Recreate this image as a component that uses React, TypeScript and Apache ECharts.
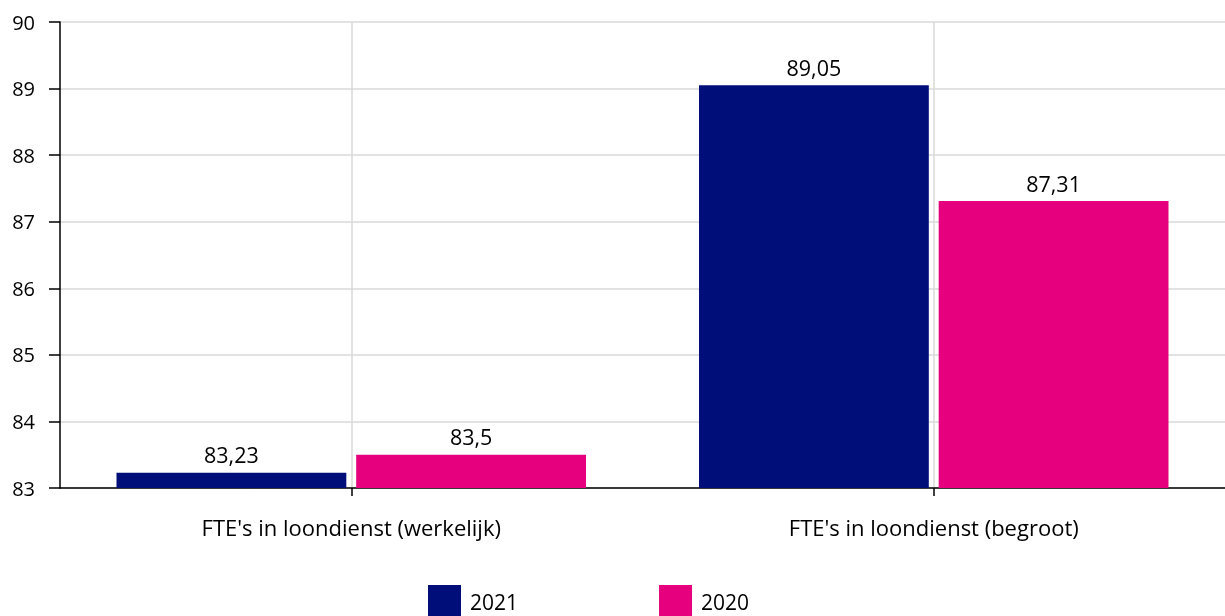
import React, { useEffect, useRef } from "react";
import * as echarts from "echarts";

const categories = ["FTE's in loondienst (werkelijk)", "FTE's in loondienst (begroot)"];
const values2021 = [83.23, 89.05];
const values2020 = [83.5, 87.31];
const seriesNames = ["2021", "2020"];

const FONT = "'Open Sans', 'Noto Sans', sans-serif";

export default function App() {
  const ref = useRef<HTMLDivElement>(null);
  useEffect(() => {
    const chart = echarts.init(ref.current!, null, { renderer: "svg" });
    const fmt = (p: any) => String(p.value).replace(".", ",");
    chart.setOption({
      animation: false,
      textStyle: { fontFamily: FONT },
      grid: { left: 60, right: 0, top: 22, bottom: 128 },
      legend: {
        left: 423,
        top: 580,
        itemWidth: 33,
        itemHeight: 33,
        itemGap: 141,
        icon: "rect",
        textStyle: { fontSize: 21, color: "#000", fontFamily: FONT, padding: [0, 0, 0, 4] },
        data: seriesNames,
      },
      xAxis: {
        type: "category",
        data: categories,
        axisLine: { show: true, lineStyle: { color: "#000", width: 1.5 } },
        axisTick: { show: true, alignWithLabel: true, length: 8, lineStyle: { color: "#000", width: 1.5 } },
        axisLabel: { fontSize: 22, color: "#000", margin: 28, fontFamily: FONT },
        splitLine: { show: true, alignWithLabel: true, lineStyle: { color: "#d9d9d9", width: 1.5 } },
      },
      yAxis: {
        type: "value",
        min: 83,
        max: 90,
        interval: 1,
        axisLine: { show: true, lineStyle: { color: "#000", width: 1.5 } },
        axisTick: { show: true, length: 11, lineStyle: { color: "#000", width: 1.5 } },
        axisLabel: { fontSize: 20, color: "#000", margin: 25, fontFamily: FONT },
        splitLine: { show: true, lineStyle: { color: "#d9d9d9", width: 1.5 } },
      },
      series: [
        {
          name: seriesNames[0],
          type: "bar",
          data: values2021,
          itemStyle: { color: "#000e7a" },
          barCategoryGap: "19.4%",
          barGap: "4.3%",
          label: { show: true, position: "top", distance: 7, fontSize: 21.5, color: "#000", formatter: fmt, fontFamily: FONT },
        },
        {
          name: seriesNames[1],
          type: "bar",
          data: values2020,
          itemStyle: { color: "#e6007e" },
          barCategoryGap: "19.4%",
          barGap: "4.3%",
          label: { show: true, position: "top", distance: 7, fontSize: 21.5, color: "#000", formatter: fmt, fontFamily: FONT },
        },
      ],
    });
    return () => chart.dispose();
  }, []);
  return (
    <div
      ref={ref}
      style={{ position: "fixed", left: 0, top: 0, width: 1225, height: 616 }}
    />
  );
}
